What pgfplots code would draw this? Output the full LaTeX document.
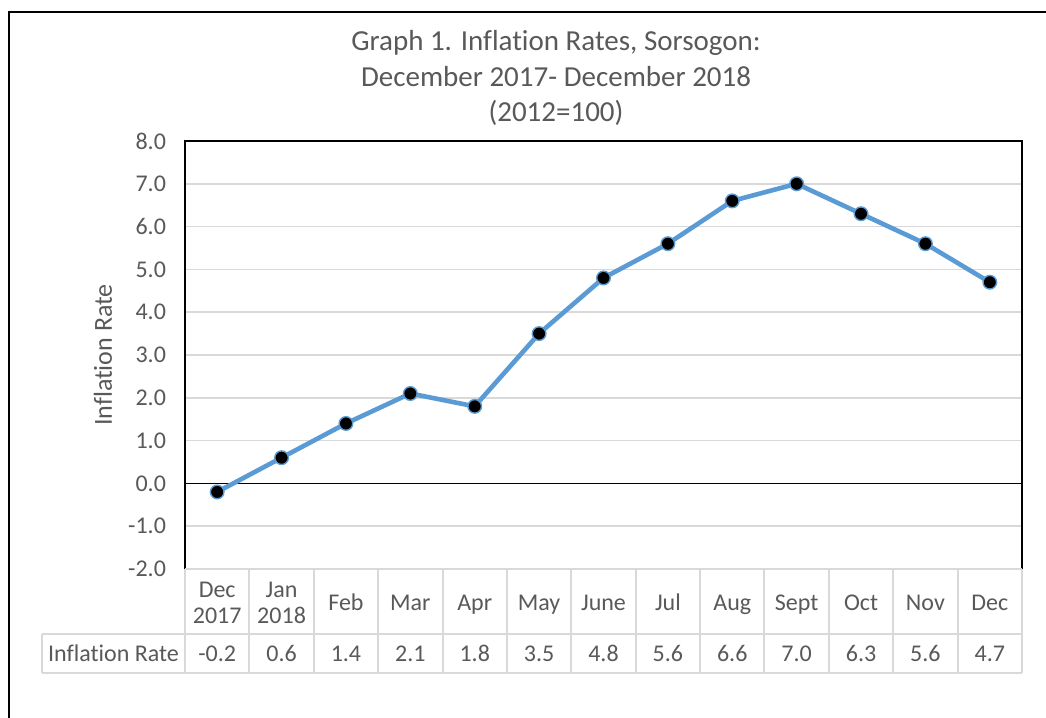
\documentclass[border=0pt]{standalone}
\usepackage{pgfplots}
\pgfplotsset{compat=1.18}
\usepackage{fontspec}
\setmainfont{Carlito}[Ligatures=NoCommon]
\definecolor{textgray}{HTML}{595959}
\definecolor{gridgray}{HTML}{D9D9D9}
\definecolor{lineblue}{HTML}{5B9BD5}
\begin{document}
\begin{tikzpicture}
\useasboundingbox (0pt,0pt) rectangle (523pt,359pt);
\fill[white] (0pt,0pt) rectangle (523pt,359pt);
\draw[line width=0.7pt] (4.5pt,0pt) -- (4.5pt,353pt) -- (523pt,353pt);
\node[text=textgray, align=center, font=\fontsize{14.5}{17.6}\selectfont] at (278pt,320pt)
  {Graph 1. Inflation Rates, Sorsogon:\\December 2017- December 2018\\(2012=100)};
\begin{axis}[
  at={(92.5pt,74.5pt)}, anchor=south west,
  scale only axis, width=418.5pt, height=214pt,
  xmin=-0.5, xmax=12.5, ymin=-2, ymax=8,
  clip=false,
  axis line style={black, line width=0.75pt},
  xtick={0,...,12},
  xticklabels={{\strut Dec\\\strut 2017},{\strut Jan\\\strut 2018},\strut Feb,\strut Mar,\strut Apr,\strut May,\strut June,\strut Jul,\strut Aug,\strut Sept,\strut Oct,\strut Nov,\strut Dec},
  xticklabel style={align=center, anchor=center, yshift=-18.25pt, font=\fontsize{12}{13}\selectfont, text=textgray, inner ysep=0pt},
  ytick={-2,-1,0,1,2,3,4,5,6,7,8},
  yticklabels={-2.0,-1.0,0.0,1.0,2.0,3.0,4.0,5.0,6.0,7.0,8.0},
  yticklabel style={font=\fontsize{12}{13}\selectfont, text=textgray, anchor=east, xshift=-6pt},
  major tick length=0pt,
  ymajorgrids, major grid style={gridgray, line width=0.75pt},
  ylabel={Inflation Rate},
  ylabel style={at={(axis description cs:-0.098,0.5)}, anchor=center, font=\fontsize{13}{14}\selectfont, text=textgray},
]
\draw[black, line width=0.75pt] (axis cs:-0.5,0) -- (axis cs:12.5,0);
\addplot[lineblue, line width=2.3pt, mark=*, mark size=3.4pt,
  mark options={fill=black, draw=lineblue, line width=0.7pt}]
  coordinates {(0,-0.2) (1,0.6) (2,1.4) (3,2.1) (4,1.8) (5,3.5) (6,4.8)
               (7,5.6) (8,6.6) (9,7.0) (10,6.3) (11,5.6) (12,4.7)};
% data table grid
\pgfplotsinvokeforeach{-0.5,0.5,1.5,2.5,3.5,4.5,5.5,6.5,7.5,8.5,9.5,10.5,11.5,12.5}{
  \draw[gridgray, line width=1pt] (axis cs:#1,-2) -- (axis cs:#1,-4.43);
}
\draw[gridgray, line width=1pt] (axis cs:-2.721,-3.519) -- (axis cs:12.5,-3.519);
\draw[gridgray, line width=1pt] (axis cs:-2.721,-4.43) -- (axis cs:12.5,-4.43);
\draw[gridgray, line width=1pt] (axis cs:-2.721,-3.519) -- (axis cs:-2.721,-4.43);
\node[text=textgray, font=\fontsize{12}{13}\selectfont] at (axis cs:-1.61,-4.03) {\strut Inflation Rate};
\node[text=textgray, font=\fontsize{12}{13}\selectfont] at (axis cs:0,-4.03) {\strut -0.2};
\node[text=textgray, font=\fontsize{12}{13}\selectfont] at (axis cs:1,-4.03) {\strut 0.6};
\node[text=textgray, font=\fontsize{12}{13}\selectfont] at (axis cs:2,-4.03) {\strut 1.4};
\node[text=textgray, font=\fontsize{12}{13}\selectfont] at (axis cs:3,-4.03) {\strut 2.1};
\node[text=textgray, font=\fontsize{12}{13}\selectfont] at (axis cs:4,-4.03) {\strut 1.8};
\node[text=textgray, font=\fontsize{12}{13}\selectfont] at (axis cs:5,-4.03) {\strut 3.5};
\node[text=textgray, font=\fontsize{12}{13}\selectfont] at (axis cs:6,-4.03) {\strut 4.8};
\node[text=textgray, font=\fontsize{12}{13}\selectfont] at (axis cs:7,-4.03) {\strut 5.6};
\node[text=textgray, font=\fontsize{12}{13}\selectfont] at (axis cs:8,-4.03) {\strut 6.6};
\node[text=textgray, font=\fontsize{12}{13}\selectfont] at (axis cs:9,-4.03) {\strut 7.0};
\node[text=textgray, font=\fontsize{12}{13}\selectfont] at (axis cs:10,-4.03) {\strut 6.3};
\node[text=textgray, font=\fontsize{12}{13}\selectfont] at (axis cs:11,-4.03) {\strut 5.6};
\node[text=textgray, font=\fontsize{12}{13}\selectfont] at (axis cs:12,-4.03) {\strut 4.7};
\end{axis}
\draw[gridgray, line width=1pt] (92.5pt,74.5pt) -- (511pt,74.5pt);
\end{tikzpicture}
\end{document}
